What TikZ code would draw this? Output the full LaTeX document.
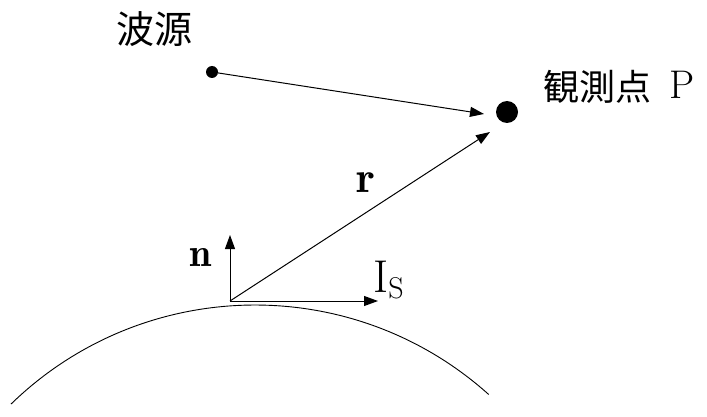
\documentclass[tikz,border=0pt]{standalone}
\usepackage{fontspec}
\newfontfamily\cjk{Noto Sans CJK JP}
\usetikzlibrary{arrows.meta}
\begin{document}
\begin{tikzpicture}[x=1pt,y=-1pt,
  vec/.style={line width=1pt,-{Triangle[length=14pt,width=10pt]}},
  lbl/.style={inner sep=0pt}]
\useasboundingbox (0,0) rectangle (707,417);
\node[lbl,font=\cjk\fontsize{38}{40}\selectfont] (src) at (154,29) {波源};
\node[circle,fill,inner sep=0pt,minimum size=12pt] (s) at (212,72) {};
\node[circle,fill,inner sep=0pt,minimum size=22pt] (p) at (507,112) {};
\node[lbl,anchor=west,font=\cjk\fontsize{36}{38}\selectfont] (plabel) at (543,87) {観測点};
\node[lbl,anchor=base west,font=\fontsize{40}{42}\selectfont] (pp) at (669,99) {P};
\coordinate (o) at (230,301);
\coordinate (nt) at (230,235);
\coordinate (it) at (378,301);
\coordinate (rt) at (490,132);
\coordinate (st) at (484,114);
\draw[vec] (s) -- (st);
\draw[vec] (o) -- (rt);
\draw[vec] (o) -- (nt);
\draw[vec] (o) -- (it);
\node[lbl,font=\fontsize{40}{42}\selectfont] (nl) at (201,257) {$\mathbf{n}$};
\node[lbl,font=\fontsize{44}{46}\selectfont] (rl) at (366,183) {$\mathbf{r}$};
\node[lbl,anchor=base west,font=\fontsize{46}{48}\selectfont] (il) at (373,292) {I\raisebox{-6pt}{\fontsize{30}{32}\selectfont S}};
\draw[line width=0.9pt] (255,655) ++(-134.2:350) arc[start angle=-134.2,end angle=-48.1,radius=350];
\end{tikzpicture}
\end{document}
